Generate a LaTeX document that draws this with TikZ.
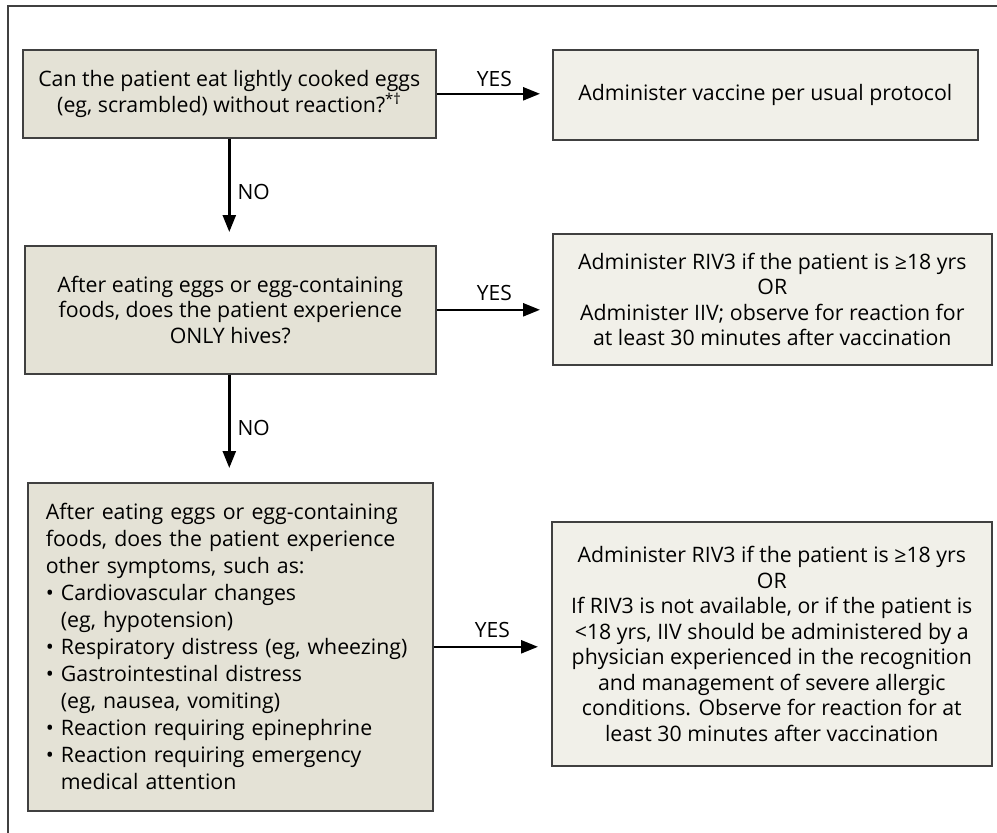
\documentclass[tikz,border=0pt]{standalone}
\usepackage{fontspec}
\setmainfont{Open Sans}
\usetikzlibrary{arrows.meta}
\definecolor{darkbeige}{HTML}{E4E2D6}
\definecolor{lightbeige}{HTML}{F1F0E9}
\definecolor{edgegray}{HTML}{404040}
\begin{document}
\begin{tikzpicture}[x=1pt,y=-1pt,
  box/.style={draw=edgegray,line width=1.6pt,inner sep=0pt,anchor=north west,align=center,
    font=\fontsize{21.3}{25.5}\selectfont},
  leftbox/.style={box,fill=darkbeige},
  rightbox/.style={box,fill=lightbeige},
  arr/.style={line width=2.5pt,-{Triangle[length=17pt,width=13pt]}},
  lbl/.style={font=\fontsize{21}{25}\selectfont,inner sep=0pt},
  framelines/.style={line width=2pt,draw=edgegray}]
\useasboundingbox (0,0) rectangle (997,833);
\draw[framelines] (8,833) -- (8,6) -- (997,6);

\node[leftbox,minimum width=413pt,minimum height=88pt] (b1) at (22,49)
  {Can the patient eat lightly cooked eggs\\(eg, scrambled) without reaction?\textsuperscript{*†}};
\node[rightbox,minimum width=425pt,minimum height=90pt] (b2) at (552,49)
  {Administer vaccine per usual protocol};
\node[leftbox,minimum width=411pt,minimum height=128pt] (b3) at (24,245)
  {After eating eggs or egg-containing\\foods, does the patient experience\\ONLY hives?};
\node[rightbox,minimum width=439pt,minimum height=131pt] (b4) at (552,233)
  {Administer RIV3 if the patient is ≥18 yrs\\OR\\Administer IIV; observe for reaction for\\at least 30 minutes after vaccination};
\node[leftbox,minimum width=405pt,minimum height=328pt,align=left,text width=369pt,inner xsep=18pt,
  font=\fontsize{21.3}{27}\selectfont] (b5) at (27,482)
  {After eating eggs or egg-containing\\foods, does the patient experience\\other symptoms, such as:\\
   • Cardiovascular changes\\\phantom{• }(eg, hypotension)\\
   • Respiratory distress (eg, wheezing)\\
   • Gastrointestinal distress\\\phantom{• }(eg, nausea, vomiting)\\
   • Reaction requiring epinephrine\\
   • Reaction requiring emergency\\\phantom{• }medical attention};
\node[rightbox,minimum width=440pt,minimum height=244pt] (b6) at (551,521)
  {Administer RIV3 if the patient is ≥18 yrs\\OR\\If RIV3 is not available, or if the patient is\\<18 yrs, IIV should be administered by a\\physician experienced in the recognition\\and management of severe allergic\\conditions. Observe for reaction for at\\least 30 minutes after vaccination};

\draw[arr,shorten >=12pt] (b1.east) -- node[lbl,above=6pt] {YES} (b1.east -| b2.west);
\draw[arr,shorten >=13pt] (b1.south) -- node[lbl,right=7pt] {NO} (b1.south |- b3.north);
\draw[arr,shorten >=12pt] (b3.east) -- node[lbl,above=8pt] {YES} (b3.east -| b4.west);
\draw[arr,shorten >=14pt] (b1.south |- b3.south) -- node[lbl,right=7pt] {NO} (b1.south |- b5.north);
\draw[arr,shorten >=13pt] (b5.east) -- node[lbl,above=8pt] {YES} (b5.east -| b6.west);
\end{tikzpicture}
\end{document}
